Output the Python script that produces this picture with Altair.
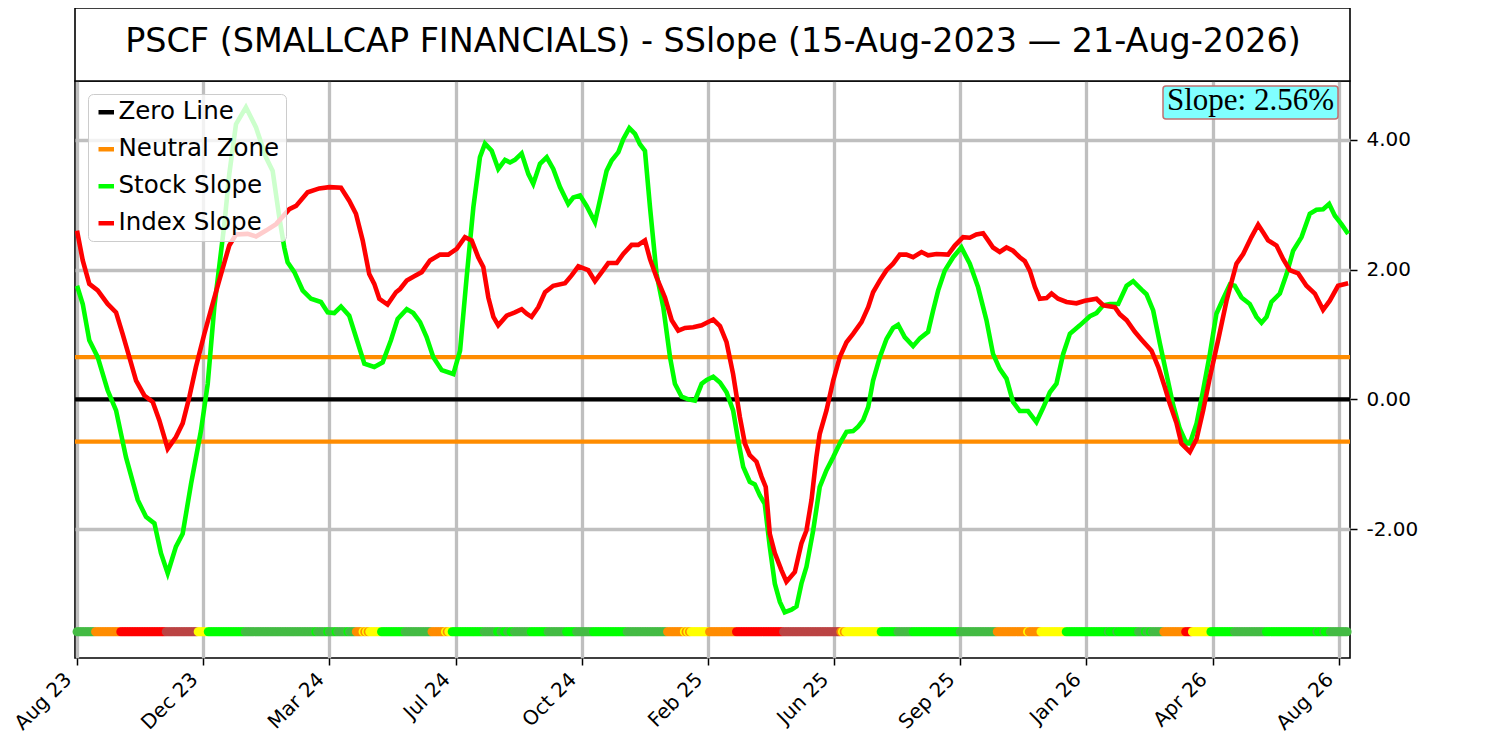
import json
import altair as alt
import pandas as pd

# ---------------- data ----------------
TITLE = "PSCF (SMALLCAP FINANCIALS) - SSlope (15-Aug-2023 \u2014 21-Aug-2026)"
SLOPE_TEXT = "Slope: 2.56%"
N_DAYS = 756
TICK_STEP = 75
TICK_LABELS = ["Aug 23", "Dec 23", "Mar 24", "Jul 24", "Oct 24", "Feb 25",
               "Jun 25", "Sep 25", "Jan 26", "Apr 26", "Aug 26"]
Y_TICKS = [-2, 0, 2, 4]
NEUTRAL = 0.65
STRIP_LEVEL = -3.58

stock_x = [0, 3.4, 7.3, 12.3, 18.2, 23.2, 29.1, 36.1, 41, 46, 49.9, 53.9, 58.8, 62.8, 67.8, 73.7, 77.7, 81.6,
           87.6, 90.5, 94.5, 100.4, 106.4, 112.3, 116.3, 120.2, 123.2, 125.2, 129.2, 134.1, 139.1, 145, 149,
           152.9, 156.9, 161.8, 165.8, 170.8, 176.7, 181.7, 186.6, 190.6, 196, 199.9, 203.9, 207.8, 211.8,
           216.8, 223.7, 227.7, 231.6, 235.6, 239.5, 242.5, 246.5, 250.4, 254.4, 257.4, 260.3, 264.3, 268.3,
           271.2, 275.2, 279.2, 283.1, 287.1, 292, 295, 299, 302.9, 307.9, 311.9, 314.8, 317.8, 321.8, 324.7,
           328.3, 331.7, 334.6, 337.6, 340.6, 344.5, 348.5, 352.5, 355.4, 359.4, 363.4, 367.3, 371.3, 374.3,
           378.2, 382.2, 386.1, 390, 393, 396, 399.9, 402.9, 405.9, 408.8, 411.8, 414.8, 417.8, 420.7, 424.7,
           427.7, 430.6, 433.6, 437.6, 441.5, 445.5, 449.5, 453.4, 457.4, 461.3, 464.3, 467.3, 470.3, 473.2,
           477.2, 481.2, 485.1, 488.1, 492, 497, 501, 505.9, 508.9, 511.9, 515.8, 520.8, 525.7, 530.7, 535.6,
           540.6, 544.5, 548.5, 552.5, 556.4, 560.4, 565.3, 570.3, 574.3, 578.3, 582.2, 586.2, 590.2, 596.1,
           602.1, 606, 610, 613.9, 618.9, 623.9, 627.8, 632.8, 635.7, 639.7, 643.7, 647.6, 651.6, 655.5,
           659.5, 661.5, 665.5, 669.4, 673.4, 677.3, 681.3, 685.3, 688.2, 692.2, 697.1, 701.1, 704.1, 707.1,
           710, 715, 719, 722.9, 727.9, 732.8, 736.8, 740.7, 744.3, 747.7, 751.6, 755.6]
stock_y = [1.75, 1.47, 0.91, 0.65, 0.14, -0.17, -0.89, -1.55, -1.81, -1.91, -2.37, -2.68, -2.27, -2.07, -1.30,
           -0.48, 0.24, 1.42, 2.70, 3.47, 4.24, 4.50, 4.19, 3.73, 3.52, 2.81, 2.34, 2.11, 1.96, 1.68, 1.55,
           1.50, 1.34, 1.33, 1.43, 1.29, 0.96, 0.55, 0.50, 0.57, 0.91, 1.24, 1.39, 1.33, 1.19, 0.96, 0.65,
           0.45, 0.39, 0.75, 1.88, 2.96, 3.73, 3.94, 3.83, 3.55, 3.69, 3.65, 3.69, 3.79, 3.47, 3.32, 3.63,
           3.73, 3.55, 3.27, 3.01, 3.11, 3.14, 2.98, 2.73, 3.19, 3.52, 3.68, 3.81, 4.01, 4.18, 4.09, 3.93,
           3.83, 2.96, 1.93, 1.42, 0.65, 0.24, 0.04, 0.00, -0.02, 0.24, 0.30, 0.35, 0.26, 0.11, -0.17, -0.63,
           -1.04, -1.27, -1.31, -1.48, -1.61, -2.27, -2.84, -3.12, -3.28, -3.24, -3.19, -2.84, -2.58, -2.02,
           -1.35, -1.09, -0.89, -0.68, -0.50, -0.49, -0.42, -0.32, -0.12, 0.29, 0.65, 0.93, 1.10, 1.15, 0.96,
           0.82, 0.94, 1.04, 1.37, 1.68, 1.98, 2.19, 2.34, 2.09, 1.73, 1.22, 0.70, 0.47, 0.32, -0.04, -0.18,
           -0.18, -0.35, -0.13, 0.11, 0.24, 0.70, 1.01, 1.14, 1.28, 1.33, 1.45, 1.47, 1.47, 1.75, 1.82, 1.69,
           1.62, 1.37, 0.86, 0.39, -0.09, -0.45, -0.68, -0.68, -0.37, 0.14, 0.70, 1.32, 1.55, 1.77, 1.75,
           1.57, 1.47, 1.27, 1.18, 1.27, 1.50, 1.63, 1.93, 2.29, 2.50, 2.86, 2.92, 2.93, 3.01, 2.83, 2.70,
           2.55]

index_x = [0, 3.4, 7.3, 12.3, 18.2, 23.2, 27.1, 31.1, 35.1, 40, 45, 48.9, 53.9, 58.8, 62.8, 66.8, 70.7, 75.7,
           80.6, 85.6, 90.5, 94.5, 101.4, 106.4, 112.3, 118.3, 126.2, 130.2, 137.1, 144, 150, 156.9, 161.8,
           165.8, 169.8, 173.7, 176.7, 179.7, 184.6, 189.6, 192, 196, 199.9, 204.9, 209.8, 215.8, 220.7,
           225.7, 230.6, 234.6, 238.5, 241.5, 244.5, 247.5, 250.4, 255.4, 260.3, 264.3, 267.3, 270.2, 274.2,
           278.2, 283.1, 290.1, 294, 298, 303.9, 307.9, 311.9, 315.8, 320.8, 324.7, 329.7, 333.6, 337.6,
           340.6, 344.5, 349.5, 353.5, 357.4, 361.4, 366.3, 371.3, 374.3, 378.2, 382.2, 386.1, 390, 394, 397,
           399.9, 403.9, 406.9, 409.4, 411.8, 414.8, 418.7, 421.7, 426.7, 430.6, 433.6, 436.6, 439.5, 441.5,
           445.5, 449.5, 453.4, 457.4, 461.3, 466.3, 470.3, 473.2, 477.2, 481.2, 485.1, 489.1, 493, 497, 502,
           505.9, 510.9, 517.8, 521.8, 526.7, 530.7, 534.6, 538.6, 541.6, 544.5, 548.5, 552.5, 556.4, 560.4,
           563.4, 566.4, 569.4, 572.3, 576.3, 579.3, 583.2, 588.2, 594.1, 599.1, 606, 610, 616.9, 619.9,
           623.9, 628.8, 632.8, 638.7, 642.7, 646.6, 649.6, 653.6, 656.5, 661.5, 665.5, 669.4, 673.4, 678.3,
           683.3, 689.2, 693.2, 698.1, 702.1, 705.1, 708, 713, 717, 720.9, 725.9, 730.8, 735.8, 740.7, 744.7,
           749.6, 755.6]
index_y = [2.60, 2.14, 1.78, 1.68, 1.47, 1.34, 1.01, 0.65, 0.29, 0.06, -0.04, -0.32, -0.76, -0.58, -0.37,
           0.04, 0.50, 1.01, 1.47, 1.93, 2.37, 2.54, 2.55, 2.51, 2.60, 2.70, 2.93, 2.98, 3.19, 3.25, 3.27,
           3.26, 3.06, 2.86, 2.45, 1.93, 1.78, 1.55, 1.46, 1.65, 1.70, 1.83, 1.89, 1.96, 2.14, 2.23, 2.23,
           2.32, 2.50, 2.45, 2.19, 2.04, 1.57, 1.27, 1.14, 1.29, 1.34, 1.39, 1.32, 1.27, 1.42, 1.65, 1.75,
           1.79, 1.91, 2.05, 1.99, 1.82, 1.96, 2.10, 2.10, 2.24, 2.38, 2.38, 2.45, 2.16, 1.88, 1.57, 1.22,
           1.06, 1.10, 1.11, 1.14, 1.18, 1.23, 1.13, 0.88, 0.39, -0.27, -0.68, -0.86, -0.96, -1.19, -1.35,
           -2.07, -2.37, -2.63, -2.81, -2.66, -2.22, -2.02, -1.55, -0.89, -0.53, -0.17, 0.29, 0.65, 0.88,
           1.01, 1.19, 1.42, 1.65, 1.83, 1.99, 2.09, 2.23, 2.23, 2.19, 2.27, 2.22, 2.24, 2.23, 2.37, 2.50,
           2.49, 2.54, 2.56, 2.45, 2.34, 2.27, 2.34, 2.29, 2.19, 2.13, 1.98, 1.73, 1.55, 1.56, 1.63, 1.55,
           1.50, 1.48, 1.52, 1.55, 1.45, 1.42, 1.31, 1.22, 1.04, 0.92, 0.75, 0.50, 0.19, -0.07, -0.37, -0.68,
           -0.81, -0.61, -0.17, 0.34, 0.91, 1.52, 2.09, 2.24, 2.50, 2.69, 2.57, 2.45, 2.37, 2.16, 1.99, 1.94,
           1.75, 1.63, 1.38, 1.52, 1.75, 1.79]

# signal strip: start index of each run and its state
seg_start = [0, 11, 26, 53, 72, 78, 100, 142, 143, 149, 150, 154, 155, 161, 162, 166, 170, 171, 172, 173, 174,
             181, 195, 211, 219, 220, 221, 223, 242, 250, 252, 254, 256, 258, 260, 270, 280, 291, 297, 307,
             327, 351, 361, 362, 363, 364, 365, 366, 376, 392, 420, 454, 455, 456, 457, 478, 488, 497, 525,
             547, 565, 566, 573, 588, 613, 614, 618, 619, 631, 635, 636, 638, 639, 646, 659, 663, 674, 688,
             707, 737, 738, 741, 742, 745, 746]
seg_state = ["G", "O", "R", "B", "Y", "L", "G", "L", "G", "L", "G", "L", "G", "L", "G", "O", "Y", "O", "Y", "O", "Y",
             "L", "G", "O", "Y", "O", "Y", "L", "G", "L", "G", "L", "G", "L", "G", "L", "G", "L", "G", "L",
             "G", "O", "Y", "O", "Y", "O", "Y", "Y", "O", "R", "B", "O", "Y", "O", "Y", "L", "G", "L", "G",
             "O", "Y", "O", "Y", "L", "G", "L", "G", "L", "G", "L", "G", "L", "G", "O", "R", "Y", "L", "G",
             "L", "G", "L", "G", "L", "G", "G"]
STATE_COLORS = {"L": "#00ff00", "G": "#44bb44", "O": "#ff8c00", "R": "#ff0000",
                "B": "#bb4444", "Y": "#ffff00"}

SERIES = ["Zero Line", "Neutral Zone", "Stock Slope", "Index Slope"]
SERIES_COLORS = ["#000000", "#ff8c00", "#00ff00", "#ff0000"]

# ---------------- tables ----------------
stock_df = pd.DataFrame({"x": stock_x, "y": stock_y, "series": "Stock Slope"})
index_df = pd.DataFrame({"x": index_x, "y": index_y, "series": "Index Slope"})
rules_df = pd.DataFrame({"y": [0.0, NEUTRAL, -NEUTRAL],
                         "series": ["Zero Line", "Neutral Zone", "Neutral Zone"]})
rows = []
for i, (s, st) in enumerate(zip(seg_start, seg_state)):
    e = seg_start[i + 1] if i + 1 < len(seg_start) else N_DAYS
    for k in range(s, e):
        rows.append({"x": k, "fillc": STATE_COLORS[st]})
dots_df = pd.DataFrame(rows)
one = pd.DataFrame({"k": [0]})

# ---------------- chart ----------------
W, H = 1275, 577
x_scale = alt.Scale(domain=[-1.2, 756.7], nice=False, zero=False)
y_scale = alt.Scale(domain=[-3.985, 4.905], nice=False, zero=False)
label_expr = json.dumps(TICK_LABELS) + "[round(datum.value / %d)]" % TICK_STEP

x_enc = alt.X("x:Q", scale=x_scale,
              axis=alt.Axis(values=[i * TICK_STEP for i in range(len(TICK_LABELS))],
                            labelExpr=label_expr, title=None, labelAngle=315,
                            labelAlign="right", labelBaseline="top", labelOffset=-16,
                            labelPadding=4, labelOverlap=False, labelFlush=False))
y_axis = alt.Axis(orient="right", values=Y_TICKS, title=None,
                  labelExpr="replace(format(datum.value, '.2f'), '\u2212', '-')",
                  labelPadding=9, labelOverlap=False, labelFlush=False)
color_enc = alt.Color("series:N",
                      scale=alt.Scale(domain=SERIES, range=SERIES_COLORS),
                      legend=alt.Legend(title=None, orient="top-left", offset=13,
                                        fillColor="rgba(255,255,255,0.8)", strokeColor="#cccccc",
                                        cornerRadius=5, padding=6, symbolType="stroke",
                                        symbolStrokeWidth=4.5, symbolSize=240,
                                        labelFontSize=24.5, labelFont="DejaVu Sans", labelLimit=0,
                                        labelColor="black", rowPadding=12, labelOffset=0))

rules = alt.Chart(rules_df).mark_rule(strokeWidth=4.2).encode(
    y=alt.Y("y:Q", scale=y_scale, axis=y_axis), color=color_enc)
stock = alt.Chart(stock_df).mark_line(strokeWidth=4.6, clip=True).encode(
    x=x_enc, y=alt.Y("y:Q", scale=y_scale), color=color_enc)
index = alt.Chart(index_df).mark_line(strokeWidth=4.6, clip=True).encode(
    x=alt.X("x:Q", scale=x_scale), y=alt.Y("y:Q", scale=y_scale), color=color_enc)
dots = alt.Chart(dots_df).mark_circle(size=80, opacity=1).encode(
    x=alt.X("x:Q", scale=x_scale), y=alt.datum(STRIP_LEVEL),
    fill=alt.Fill("fillc:N", scale=None))

slope_box = alt.Chart(one).mark_rect(fill="#80ffff", stroke="#c07070", strokeWidth=1.5,
                                     cornerRadius=3).encode(
    x=alt.value(1088), x2=alt.value(1263), y=alt.value(5), y2=alt.value(38))
slope_txt = alt.Chart(one).mark_text(text=SLOPE_TEXT, font="Liberation Serif", fontSize=31,
                                     align="center", baseline="alphabetic", color="black").encode(
    x=alt.value(1175.5), y=alt.value(29))
title_box = alt.Chart(one).mark_rect(fill="white", stroke="black", strokeWidth=1.6).encode(
    x=alt.value(0), x2=alt.value(W), y=alt.value(-73), y2=alt.value(0))
title_txt = alt.Chart(one).mark_text(text=TITLE, font="DejaVu Sans", fontSize=33.4,
                                     align="center", baseline="alphabetic", color="black").encode(
    x=alt.value(638), y=alt.value(-29))

chart = alt.layer(rules, stock, index, dots, slope_box, slope_txt, title_box, title_txt).properties(
    width=W, height=H,
    autosize=alt.AutoSizeParams(type="none"),
    padding={"left": 67, "top": 73, "right": 110, "bottom": 80},
).configure_view(stroke="black", strokeWidth=1.6).configure_axis(
    grid=True, gridColor="#bfbfbf", gridWidth=3.3, gridOpacity=1, domain=False,
    tickColor="black", tickWidth=1.5, tickSize=7,
    labelFont="DejaVu Sans", labelFontSize=20, labelColor="black")

chart.save("out.html", embed_options={"renderer": "svg", "actions": False})
